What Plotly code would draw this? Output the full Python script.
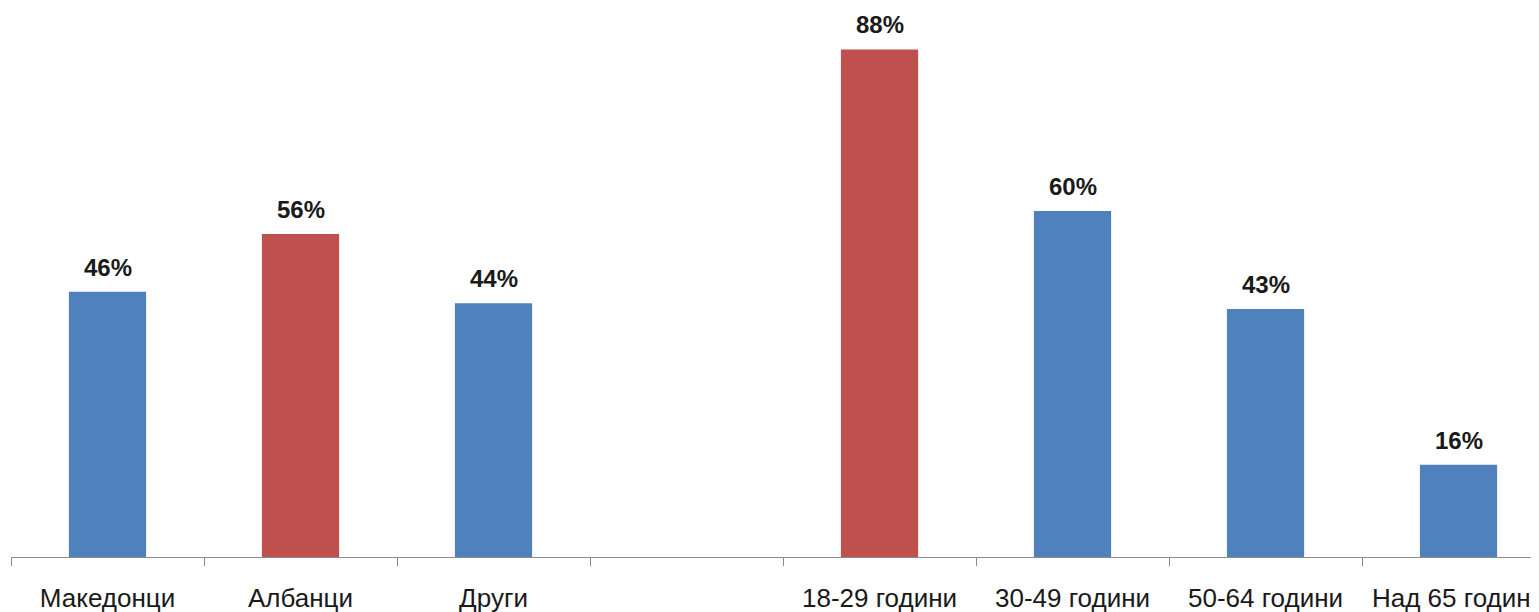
import plotly.graph_objects as go

categories = ["Македонци", "Албанци", "Други", " ", "18-29 години", "30-49 години", "50-64 години", "Над 65 години"]
values = [46, 56, 44, None, 88, 60, 43, 16]
labels = ["46%", "56%", "44%", "", "88%", "60%", "43%", "16%"]
colors = ["#4F81BD", "#C0504D", "#4F81BD", "#4F81BD", "#C0504D", "#4F81BD", "#4F81BD", "#4F81BD"]

fig = go.Figure()
fig.add_trace(go.Bar(
    x=categories, y=values, marker_color=colors, width=0.4,
    marker_line_width=0, hoverinfo="skip",
))
for c, v, t in zip(categories, values, labels):
    if v is None:
        continue
    fig.add_annotation(x=c, y=v, text="<b>" + t + "</b>", showarrow=False,
                       yanchor="bottom", yshift=9,
                       font=dict(family="Liberation Sans, Arial", size=24, color="#1a1a1a"))

fig.update_layout(
    width=1531, height=604,
    margin=dict(l=3, r=0, t=1, b=55),
    plot_bgcolor="white", paper_bgcolor="white",
    showlegend=False,
    font=dict(family="Liberation Sans, Arial", size=25, color="#1a1a1a"),
    xaxis=dict(
        type="category", range=[-0.5, 7.417], tickson="boundaries",
        ticks="outside", ticklen=8, tickcolor="#8c8c8c", tickwidth=1,
        showline=True, linecolor="#8c8c8c", linewidth=1,
        showgrid=False, automargin=False, ticklabelstandoff=18,
        tickfont=dict(size=26),
    ),
    yaxis=dict(range=[0, 95], visible=False, showgrid=False, zeroline=False),
)
fig.write_html("out.html")
